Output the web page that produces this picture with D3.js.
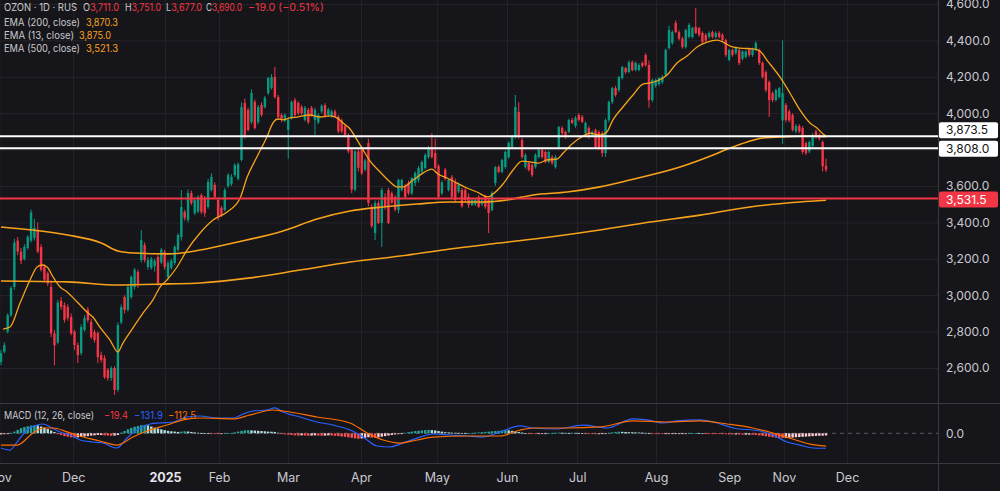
<!DOCTYPE html>
<html>
<head>
<meta charset="utf-8">
<script src="https://cdn.jsdelivr.net/npm/d3@7"></script>
<style>
  html, body { margin: 0; padding: 0; background: #16151a; }
  svg { display: block; font-family: Inter, "Noto Sans", sans-serif; }
</style>
</head>
<body>
<div id="chart"></div>
<script>
// daily candles, [open, high, low, close]
const ohlc = [
  [2633,2700,2615,2682],[2690,2740,2680,2725],[2800,2900,2790,2890],[2890,3050,2880,3040],
  [3045,3310,3030,3290],[3300,3320,3220,3240],[3240,3260,3170,3190],[3200,3280,3190,3265],
  [3260,3330,3250,3320],[3300,3470,3290,3455],[3315,3420,3300,3370],[3360,3400,3230,3240],
  [3265,3280,3130,3140],[3155,3170,3070,3085],[3120,3130,3050,3065],[3045,3080,2770,2790],
  [2790,2810,2615,2725],[2740,2975,2730,2960],[2970,2990,2920,2935],[2945,2960,2850,2865],
  [2935,2950,2860,2875],[2880,2900,2780,2790],[2800,2810,2700,2726],[2726,2740,2627,2671],
  [2682,2840,2670,2825],[2809,2890,2800,2875],[2920,2935,2850,2864],[2853,2870,2760,2770],
  [2798,2810,2740,2754],[2792,2800,2627,2660],[2671,2690,2630,2644],[2655,2670,2540,2550],
  [2589,2600,2530,2545],[2545,2610,2530,2600],[2600,2610,2452,2479],[2480,2850,2470,2836],
  [2850,2950,2840,2935],[2990,3000,2900,2919],[2920,3060,2910,3045],[2990,3110,2980,3100],
  [3045,3150,3030,3140],[3128,3140,3040,3056],[3193,3358,3180,3303],[3276,3290,3180,3193],
  [3155,3210,3140,3193],[3150,3210,3140,3200],[3160,3200,3130,3190],[3210,3220,3050,3067],
  [3180,3260,3170,3250],[3237,3250,3140,3155],[3100,3190,3080,3177],[3150,3200,3140,3190],
  [3177,3275,3165,3265],[3250,3340,3240,3330],[3320,3578,3300,3484],[3457,3470,3410,3424],
  [3413,3580,3400,3561],[3561,3575,3495,3506],[3451,3535,3440,3523],[3460,3550,3450,3540],
  [3550,3560,3445,3457],[3534,3545,3430,3451],[3485,3640,3475,3622],[3578,3670,3570,3650],
  [3606,3620,3530,3540],[3523,3535,3410,3430],[3480,3490,3430,3440],[3468,3590,3460,3578],
  [3600,3670,3590,3660],[3610,3665,3600,3650],[3660,3725,3650,3715],[3640,3730,3630,3720],
  [3743,4060,3735,4034],[4056,4080,3860,3869],[4018,4030,3900,3908],[3951,4130,3940,4111],
  [4062,4075,3910,3919],[3951,4045,3940,4034],[4045,4060,3980,3990],[4034,4095,4025,4084],
  [4111,4200,4100,4193],[4140,4215,4130,4199],[4199,4254,4080,4089],[4089,4100,3970,3979],
  [3990,4000,3950,3963],[3960,4000,3950,3990],[3908,3975,3750,3963],[3973,4070,3965,4062],
  [4072,4085,3980,3990],[4056,4065,3990,4000],[4034,4045,3990,4000],[3963,4040,3955,4030],
  [4018,4030,3940,3950],[4030,4040,3980,3990],[3963,4030,3880,4018],[3950,4000,3940,3990],
  [4010,4050,4000,4040],[4045,4055,3975,3985],[3990,4030,3980,4020],[3985,4020,3975,4010],
  [4010,4020,3975,3985],[3980,3990,3890,3900],[3960,3970,3890,3900],[3930,3940,3870,3880],
  [3880,3890,3780,3790],[3800,3810,3560,3580],[3580,3800,3570,3790],[3790,3810,3680,3700],
  [3800,3820,3660,3670],[3690,3750,3680,3740],[3836,3860,3490,3507],[3485,3500,3370,3380],
  [3342,3520,3303,3507],[3507,3520,3390,3397],[3397,3590,3265,3578],[3540,3560,3470,3485],
  [3578,3590,3390,3397],[3560,3570,3500,3510],[3540,3550,3460,3470],[3468,3640,3450,3633],
  [3580,3640,3570,3633],[3600,3610,3530,3540],[3616,3630,3550,3560],[3560,3650,3550,3644],
  [3616,3680,3600,3671],[3633,3710,3620,3699],[3680,3740,3670,3732],[3699,3780,3690,3770],
  [3759,3820,3750,3809],[3814,3890,3750,3759],[3780,3860,3690,3700],[3710,3720,3530,3540],
  [3560,3630,3550,3620],[3690,3700,3630,3640],[3578,3640,3570,3633],[3649,3660,3530,3540],
  [3616,3640,3510,3523],[3570,3620,3560,3606],[3578,3590,3480,3490],[3578,3590,3510,3523],
  [3540,3560,3480,3496],[3496,3530,3490,3523],[3500,3530,3490,3523],[3540,3550,3480,3485],
  [3500,3530,3490,3520],[3540,3550,3475,3485],[3523,3530,3342,3452],[3468,3570,3460,3562],
  [3616,3710,3600,3704],[3704,3715,3670,3677],[3677,3750,3670,3743],[3704,3795,3695,3787],
  [3759,3845,3750,3836],[3814,3880,3805,3869],[3869,4100,3860,4034],[4007,4060,3860,3869],
  [3853,3865,3750,3759],[3704,3780,3695,3770],[3726,3735,3680,3688],[3715,3725,3650,3660],
  [3704,3780,3695,3770],[3759,3805,3750,3798],[3798,3810,3750,3759],[3787,3795,3725,3732],
  [3732,3795,3725,3787],[3759,3770,3715,3726],[3704,3770,3695,3759],[3814,3930,3805,3924],
  [3919,3930,3880,3891],[3897,3905,3860,3869],[3897,3970,3890,3963],[3963,3975,3940,3946],
  [3930,3985,3920,3974],[3990,4000,3955,3963],[3980,3990,3945,3952],[3891,3955,3880,3946],
  [3919,3930,3860,3869],[3880,3905,3870,3897],[3908,3915,3805,3814],[3897,3905,3800,3809],
  [3891,3900,3760,3781],[3781,3970,3760,3963],[3963,4070,3950,4062],[4062,4145,4050,4138],
  [4138,4150,4090,4100],[4127,4205,4115,4199],[4193,4260,4185,4254],[4248,4255,4215,4226],
  [4226,4290,4220,4281],[4281,4290,4230,4237],[4237,4285,4230,4276],[4237,4275,4230,4265],
  [4276,4285,4250,4260],[4320,4330,4255,4265],[4265,4290,4030,4072],[4072,4190,4060,4182],
  [4150,4190,4140,4182],[4160,4200,4150,4193],[4171,4210,4160,4199],[4210,4355,4200,4347],
  [4358,4480,4350,4457],[4386,4455,4375,4446],[4496,4510,4440,4446],[4446,4455,4400,4410],
  [4410,4420,4355,4364],[4364,4465,4355,4457],[4419,4495,4410,4485],[4419,4475,4410,4468],
  [4474,4578,4435,4441],[4468,4475,4420,4430],[4441,4450,4380,4391],[4430,4440,4390,4400],
  [4419,4450,4410,4441],[4446,4455,4410,4419],[4419,4450,4410,4441],[4441,4450,4410,4419],
  [4430,4440,4395,4402],[4402,4410,4310,4320],[4292,4355,4285,4347],[4347,4355,4310,4320],
  [4331,4365,4320,4358],[4347,4355,4265,4276],[4300,4345,4290,4340],[4310,4345,4300,4340],
  [4350,4360,4310,4320],[4320,4360,4310,4350],[4347,4395,4340,4386],[4347,4355,4265,4276],
  [4276,4285,4190,4199],[4226,4235,4115,4127],[4171,4180,3980,4072],[4110,4120,4060,4072],
  [4072,4135,4065,4127],[4089,4145,4080,4138],[3960,4400,3830,4110],[4045,4055,3950,3963],
  [4010,4020,3950,3960],[3990,4000,3900,3908],[3900,3940,3890,3930],[3930,3940,3890,3900],
  [3919,3930,3775,3787],[3836,3845,3770,3781],[3790,3850,3780,3842],[3820,3890,3810,3880],
  [3900,3910,3860,3870],[3880,3890,3850,3860],[3842,3850,3680,3709],[3711,3751,3677,3690]
];

// moving averages, [candle index, value], read at points along each curve
const ema13 = [
  [0.6,2814],[2.7,2825],[5.7,2957],[8.7,3084],[10.8,3155],[12.3,3166],[13.8,3155],[15.6,3100],
  [17.7,3045],[19.8,3018],[22.8,2963],[25.7,2908],[27.5,2880],[29.6,2825],[32.6,2754],[35,2688],
  [36.5,2737],[39.5,2820],[42.5,2902],[45.5,2974],[47.6,3045],[49.7,3084],[52.7,3155],[55.7,3248],
  [59.6,3342],[63.5,3413],[67.7,3457],[71.6,3534],[73.7,3649],[76.6,3759],[79.6,3869],[81.4,3946],
  [82.9,3968],[84.4,3963],[86.5,3974],[88.6,3979],[92.5,3990],[95.5,3979],[98.5,3985],[100.6,3974],
  [102.4,3946],[104.5,3913],[106.6,3853],[108.4,3798],[110.5,3737],[113.5,3677],[116.5,3622],
  [118.6,3595],[120.4,3595],[123.4,3633],[126.3,3671],[129,3693],[130.8,3666],[133.5,3644],
  [136.5,3616],[139.5,3589],[142.5,3567],[145.8,3540],[147.3,3556],[150.3,3611],[153.3,3688],
  [156,3737],[158.4,3732],[160.8,3726],[163.5,3743],[166.5,3748],[168.3,3781],[171.3,3836],
  [174.3,3875],[176.3,3891],[179.3,3880],[181.4,3897],[183.2,3963],[186.2,4034],[189.2,4100],
  [192.2,4160],[194.3,4166],[196.4,4177],[199.4,4210],[202.4,4276],[205.4,4314],[208.4,4364],
  [211.4,4391],[214.4,4402],[216.2,4391],[218.3,4369],[221.3,4358],[225.1,4353],[227.2,4342],
  [229.3,4292],[233.2,4199],[236.2,4111],[239.2,4018],[242.2,3946],[244.3,3919],[246.1,3886],
  [247,3875.0]
];
const ema200 = [
  [0,3375],[9.6,3358],[20,3331],[30,3287],[35,3243],[40,3232],[50,3227],[59.6,3248],[69.5,3287],
  [84.4,3353],[94.6,3419],[104.5,3463],[114.4,3485],[124.6,3501],[134.4,3512],[144.3,3512],
  [151.5,3523],[159.3,3551],[169.5,3567],[179.3,3595],[188.3,3633],[203.3,3704],[213.2,3770],
  [218.3,3809],[223.4,3842],[228.1,3864],[233.2,3869],[243.1,3875],[247,3870.3]
];
const ema500 = [
  [0,3078],[20,3073],[35,3056],[50,3062],[59.6,3067],[74.6,3095],[89.5,3138],[104.5,3182],
  [119.5,3215],[134.4,3254],[149.4,3287],[164.4,3320],[179.3,3358],[194.3,3402],[209.3,3440],
  [224.3,3485],[239.2,3512],[247,3521.3]
];

// MACD pane, [candle index, value]
const macdLine = [
  [0,-130],[2.7,-148],[4.8,-77],[7.8,29],[10.8,73],[12.6,82],[14.7,56],[17.7,12],[20.7,-15],
  [23.7,-59],[27.5,-77],[30.5,-86],[34.7,-130],[37.7,-42],[41.6,47],[44.6,82],[47.6,91],[51.5,100],
  [55.7,144],[59.6,153],[64.7,135],[69.5,135],[72.5,171],[75.4,197],[79.6,206],[82,224],[84.4,188],
  [89.5,144],[94.6,100],[99.4,73],[104.5,29],[107.5,-15],[109.6,-59],[112.6,-112],[116.5,-121],
  [119.5,-95],[124.6,-42],[129.3,-6],[134.4,-15],[139.5,-24],[144.3,-33],[149.4,12],[155.4,65],
  [159.3,47],[166.5,38],[174.3,73],[181.4,47],[189.2,127],[193.4,118],[198.2,91],[202.4,109],
  [209.3,118],[214.4,91],[219.2,47],[227.2,20],[231.1,-15],[235.3,-77],[239.2,-104],[243.1,-130],
  [247,-131.9]
];
const signalLine = [
  [0,-104],[4.8,-104],[9.6,3],[12.6,47],[15.6,47],[19.8,12],[24.6,-33],[29.6,-68],[34.7,-104],
  [39.5,-33],[44.6,29],[49.7,73],[54.5,118],[59.6,135],[69.5,127],[74.6,162],[81.4,206],[84.4,197],
  [94.6,144],[104.5,91],[109.6,3],[114.4,-59],[119.5,-86],[124.6,-59],[129.3,-33],[139.5,-24],
  [149.4,-24],[155.4,29],[159.3,47],[169.5,47],[179.3,56],[189.2,109],[199.4,100],[209.3,109],
  [217.4,82],[225.1,47],[231.1,3],[236.2,-42],[242.2,-95],[247,-112.5]
];
const macdHist = [
  -10,-8,-4,2, 15,30,45,55,62,68,72,70, 60,50,38,25,12,
  -5,-15,-25,-30,-35,-38,-36,-30,-28,-25, -20,-18,-15,-15,-18,-20,-22,-20,-15,
  5,20,35,48,58,65,72,75,70, 60,50,42,35,28,22,18,15,12, 15,18,16,12,8,5,3,
  2,1,-1,-2,-3,-2,1,2,3, 8,15,22,26,28,26,24,22,20,18,15,14,12,
  5,-5,-10,-12,-15,-18,-20,-18,-20,-22,-20,-18,-20,-22,-20,-18,-20,-22,
  -25,-28,-30,-35,-40,-45,-48,-45,-40,-35,-38,-40,-35, -30,-25,-20,-15,-10,-8,-5,
  5,10,15,20,22,25,28,30,28,25,20,15, 10,8,6,5,4,3,2,2,3,5,8,10,12,
  15,18,20,22,25,28,26,22, 18,12,6,2,-3,-5,-6,-5,-3,-2,1,3,
  5,6,5,4,3,5,4,2,1,-2,-4,-6,-8,-8,-6, -2,4,8,12,14,13,12,10,9,8,7,6,4,2,
  -2,-4,-6,-7,-7,-6,-5,-4,-3,-2,-1,1,2,2,1,0,
  -1,-2,-3,-4,-5,-6,-8,-9,-10,-10,-11,-12,-12,-12,-13,
  -15,-18,-22,-26,-30,-34,-38,-40,-42,-42,-40,-38,-35,-33,-31,-29,-27,-25,-23,-22,-21,-19.4
];

const priceTicks = [2600, 2800, 3000, 3200, 3400, 3600, 3800, 4000, 4200, 4400, 4600];
const monthLabels = ["Nov", "Dec", "2025", "Feb", "Mar", "Apr", "May", "Jun", "Jul", "Aug", "Sep", "Nov", "Dec"];
const monthIdx = [-0.5, 21.6, 49.1, 65.3, 85.9, 107.8, 130.5, 151.5, 172.5, 196.1, 218, 234.4, 253.3];
const whiteLevels = [3873.5, 3808.0];
const redLevel = 3531.5;

const W = 1000, H = 491;
const plotW = 938;
const priceH = 403, macdTop = 403, macdBottom = 463;

const UP = "#089981", DOWN = "#f23645", EMA_COL = "#f7a21b";
const GRID = "#25242a", SEP = "#3a3940", TXT = "#c9c9cf";
const FONT = "Inter, 'Noto Sans', sans-serif";

const svg = d3.select("#chart").append("svg")
  .attr("width", W).attr("height", H);

svg.append("rect").attr("width", W).attr("height", H).attr("fill", "#16151a");

const x = d3.scaleLinear().domain([0, ohlc.length - 1]).range([1, 826]);
const y = d3.scaleLinear().domain([2600, 4600]).range([368, 4]);
const ym = d3.scaleLinear().domain([-265, 265]).range([463.3, 403.3]);

const defs = svg.append("defs");
defs.append("clipPath").attr("id", "clipPrice")
  .append("rect").attr("x", 0).attr("y", 0).attr("width", plotW).attr("height", priceH);
defs.append("clipPath").attr("id", "clipMacd")
  .append("rect").attr("x", 0).attr("y", macdTop).attr("width", plotW).attr("height", macdBottom - macdTop);

// vertical month grid + labels
const xAxis = d3.axisBottom(x)
  .tickValues(monthIdx)
  .tickFormat((d, i) => monthLabels[i])
  .tickSize(-macdBottom)
  .tickPadding(10);
const gx = svg.append("g").attr("transform", `translate(0,${macdBottom})`).call(xAxis);
gx.select(".domain").remove();
gx.selectAll(".tick line").attr("stroke", GRID);
gx.selectAll(".tick text")
  .attr("fill", d => d === monthIdx[2] ? "#e4e4ea" : TXT)
  .attr("font-weight", d => d === monthIdx[2] ? "700" : "400")
  .attr("font-size", 12.5)
  .attr("font-family", FONT);

// horizontal price grid + right axis
const yAxis = d3.axisRight(y)
  .tickValues(priceTicks)
  .tickFormat(d3.format(",.1f"))
  .tickSize(-plotW)
  .tickPadding(8);
const gy = svg.append("g").attr("transform", `translate(${plotW},0)`).call(yAxis);
gy.select(".domain").remove();
gy.selectAll(".tick line").attr("stroke", GRID);
gy.selectAll(".tick text").attr("fill", TXT).attr("font-size", 12).attr("font-family", FONT);

// MACD axis (zero only)
const gm = svg.append("g").attr("transform", `translate(${plotW},0)`)
  .call(d3.axisRight(ym).tickValues([0]).tickFormat(d3.format(".1f")).tickSize(0).tickPadding(8));
gm.select(".domain").remove();
gm.selectAll(".tick text").attr("fill", TXT).attr("font-size", 12).attr("font-family", FONT);

// pane separators
svg.append("line").attr("x1", 0).attr("x2", W).attr("y1", macdTop + 0.5).attr("y2", macdTop + 0.5).attr("stroke", SEP);
svg.append("line").attr("x1", 0).attr("x2", W).attr("y1", macdBottom + 0.5).attr("y2", macdBottom + 0.5).attr("stroke", SEP);
svg.append("line").attr("x1", plotW + 0.5).attr("x2", plotW + 0.5).attr("y1", 0).attr("y2", H).attr("stroke", SEP);

// ---- price pane
const price = svg.append("g").attr("clip-path", "url(#clipPrice)");
const bw = 2.4;

const candle = price.append("g").selectAll("g").data(ohlc).join("g");
candle.append("line")
  .attr("x1", (d, i) => x(i)).attr("x2", (d, i) => x(i))
  .attr("y1", d => y(d[1])).attr("y2", d => y(d[2]))
  .attr("stroke", d => d[3] >= d[0] ? UP : DOWN).attr("stroke-width", 1);
candle.append("rect")
  .attr("x", (d, i) => x(i) - bw / 2)
  .attr("width", bw)
  .attr("y", d => y(Math.max(d[0], d[3])))
  .attr("height", d => Math.max(1, Math.abs(y(d[0]) - y(d[3]))))
  .attr("fill", d => d[3] >= d[0] ? UP : DOWN);

const emaLine = d3.line().x(d => x(d[0])).y(d => y(d[1])).curve(d3.curveMonotoneX);
[[ema500, 1.6], [ema200, 1.6], [ema13, 1.3]].forEach(([data, w]) => {
  price.append("path").attr("d", emaLine(data))
    .attr("fill", "none").attr("stroke", EMA_COL).attr("stroke-width", w);
});

// level lines
whiteLevels.forEach(v => {
  price.append("line").attr("x1", 0).attr("x2", plotW)
    .attr("y1", y(v)).attr("y2", y(v))
    .attr("stroke", "#ffffff").attr("stroke-width", 2);
});
price.append("line").attr("x1", 0).attr("x2", plotW)
  .attr("y1", y(redLevel)).attr("y2", y(redLevel))
  .attr("stroke", DOWN).attr("stroke-width", 2);

// ---- MACD pane
const macd = svg.append("g").attr("clip-path", "url(#clipMacd)");
macd.append("line").attr("x1", 0).attr("x2", plotW)
  .attr("y1", ym(0)).attr("y2", ym(0))
  .attr("stroke", "#5c5b63").attr("stroke-dasharray", "4,4");

const histColor = (v, i) => {
  const prev = i > 0 ? macdHist[i - 1] : v;
  if (v >= 0) return v >= prev ? "#26a69a" : "#b2dfdb";
  return v < prev ? "#ff5252" : "#ffcdd2";
};
macd.append("g").selectAll("rect").data(macdHist).join("rect")
  .attr("x", (d, i) => x(i) - bw / 2)
  .attr("width", bw)
  .attr("y", d => ym(Math.max(0, d)))
  .attr("height", d => Math.max(0.8, Math.abs(ym(d) - ym(0))))
  .attr("fill", histColor);

const mLine = d3.line().x(d => x(d[0])).y(d => ym(d[1])).curve(d3.curveMonotoneX);
macd.append("path").attr("d", mLine(macdLine)).attr("fill", "none").attr("stroke", "#2962ff").attr("stroke-width", 1.2);
macd.append("path").attr("d", mLine(signalLine)).attr("fill", "none").attr("stroke", "#ff6d00").attr("stroke-width", 1.2);

// ---- price labels on the right axis
const fmt = d3.format(",.1f");
const tagH = 16;
const tags = [
  { v: whiteLevels[0], cy: y(whiteLevels[0]) - 6, fill: "#ffffff", text: "#131217" },
  { v: whiteLevels[1], cy: y(whiteLevels[1]) + 0.5, fill: "#ffffff", text: "#131217" },
  { v: redLevel, cy: y(redLevel) + 1, fill: DOWN, text: "#ffffff" }
];
tags.forEach(t => {
  svg.append("rect").attr("x", plotW + 1).attr("y", t.cy - tagH / 2)
    .attr("width", W - plotW - 3).attr("height", tagH).attr("rx", 2)
    .attr("fill", t.fill);
  svg.append("text").attr("x", plotW + 8).attr("y", t.cy).attr("dy", "0.34em")
    .attr("font-size", 12).attr("font-family", FONT).attr("fill", t.text).text(fmt(t.v));
});

// ---- legends
const last = ohlc[ohlc.length - 1], prev = ohlc[ohlc.length - 2];
const chg = last[3] - prev[3];
const legend = svg.append("g").attr("font-size", 10.5).attr("font-family", FONT);
const put = (px, py, str, color, len) => {
  const t = legend.append("text").attr("x", px).attr("y", py).attr("fill", color).text(str);
  if (len) t.attr("textLength", len).attr("lengthAdjust", "spacingAndGlyphs");
  return t;
};

put(4, 10.7, "OZON · 1D · RUS", TXT, 73);
[["O", last[0], 83], ["H", last[1], 125], ["L", last[2], 166], ["C", last[3], 206]].forEach(([k, v, px]) => {
  const t = put(px, 10.7, "", TXT, 36);
  t.append("tspan").text(k);
  t.append("tspan").attr("fill", DOWN).text(fmt(v));
});
put(248, 10.7, `${fmt(chg)} (${d3.format(".2f")(chg / prev[3] * 100)}%)`, DOWN, 76);

const emaRows = [["EMA (200, close)", ema200, 76, 86], ["EMA (13, close)", ema13, 70, 79], ["EMA (500, close)", ema500, 76, 86]];
emaRows.forEach(([label, data, len, vx], i) => {
  const py = 26 + i * 12.9;
  put(4, py, label, TXT, len);
  put(vx, py, fmt(data[data.length - 1][1]), EMA_COL, 32);
});

put(4, 419, "MACD (12, 26, close)", TXT, 90);
put(104, 419, fmt(macdHist[macdHist.length - 1]), "#f23645", 24);
put(134, 419, fmt(macdLine[macdLine.length - 1][1]), "#2962ff", 29);
put(168, 419, fmt(signalLine[signalLine.length - 1][1]), "#ff6d00", 28);
</script>
</body>
</html>
